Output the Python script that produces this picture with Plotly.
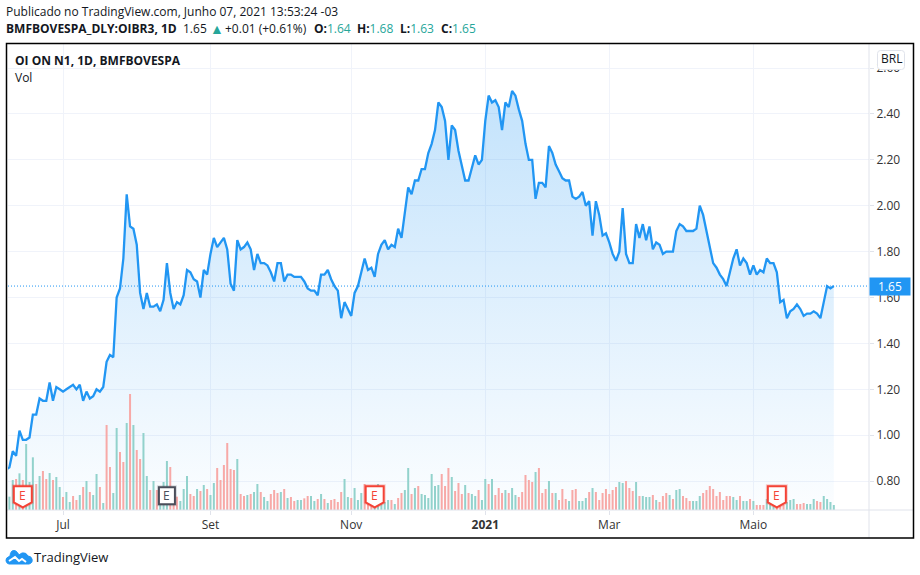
import plotly.graph_objects as go

W, H = 920, 575
LEFT, RIGHT, TOP, BOTTOM = 8, 869, 44, 510

# fechamento diario (BRL)
closes = [
    0.85, 0.86, 0.93, 0.91, 1.02, 0.98, 0.98, 0.99, 1.09, 1.09,
    1.16, 1.15, 1.15, 1.23, 1.15, 1.21, 1.20, 1.19, 1.20, 1.21,
    1.22, 1.20, 1.22, 1.15, 1.19, 1.16, 1.17, 1.20, 1.19, 1.21,
    1.32, 1.35, 1.34, 1.60, 1.64, 1.77, 2.05, 1.91, 1.90, 1.83,
    1.62, 1.55, 1.62, 1.56, 1.56, 1.57, 1.54, 1.59, 1.75, 1.62,
    1.55, 1.58, 1.57, 1.61, 1.72, 1.71, 1.68, 1.67, 1.60, 1.72,
    1.70, 1.79, 1.86, 1.82, 1.84, 1.86, 1.81, 1.66, 1.63, 1.85,
    1.81, 1.82, 1.84, 1.81, 1.72, 1.79, 1.75, 1.75, 1.74, 1.71,
    1.67, 1.75, 1.75, 1.67, 1.70, 1.70, 1.69, 1.69, 1.69, 1.67,
    1.64, 1.63, 1.63, 1.61, 1.70, 1.70, 1.72, 1.68, 1.65, 1.63,
    1.51, 1.58, 1.55, 1.52, 1.62, 1.65, 1.71, 1.77, 1.72, 1.73,
    1.69, 1.79, 1.83, 1.85, 1.81, 1.83, 1.82, 1.90, 1.86, 1.97,
    2.08, 2.05, 2.11, 2.11, 2.16, 2.16, 2.23, 2.27, 2.33, 2.45,
    2.43, 2.37, 2.20, 2.35, 2.33, 2.24, 2.18, 2.11, 2.11, 2.16,
    2.22, 2.18, 2.20, 2.37, 2.48, 2.45, 2.46, 2.43, 2.33, 2.45,
    2.43, 2.50, 2.48, 2.42, 2.37, 2.27, 2.20, 2.20, 2.03, 2.10,
    2.10, 2.08, 2.26, 2.23, 2.18, 2.15, 2.12, 2.11, 2.11, 2.04,
    2.03, 2.04, 2.06, 2.00, 2.02, 1.87, 2.02, 1.96, 1.87, 1.88,
    1.84, 1.79, 1.76, 1.80, 1.99, 1.79, 1.75, 1.75, 1.92, 1.86,
    1.92, 1.85, 1.91, 1.81, 1.84, 1.83, 1.79, 1.80, 1.80, 1.80,
    1.89, 1.92, 1.91, 1.89, 1.89, 1.89, 1.90, 2.00, 1.96, 1.89,
    1.82, 1.75, 1.73, 1.70, 1.68, 1.65, 1.71, 1.77, 1.81, 1.74,
    1.77, 1.75, 1.70, 1.74, 1.70, 1.72, 1.71, 1.77, 1.75, 1.75,
    1.71, 1.58, 1.59, 1.51, 1.54, 1.55, 1.57, 1.55, 1.52, 1.53,
    1.53, 1.54, 1.53, 1.51, 1.58, 1.65, 1.64, 1.65,
]

# volume (escala relativa)
volumes = [
    30, 40, 90, 93, 110, 90, 198, 84, 158, 78,
    102, 117, 93, 111, 90, 99, 69, 39, 54, 24,
    42, 30, 45, 69, 87, 54, 45, 108, 69, 21,
    255, 129, 51, 246, 174, 144, 261, 348, 255, 180,
    153, 231, 102, 60, 87, 60, 45, 84, 147, 129,
    60, 40, 27, 63, 102, 48, 42, 63, 57, 75,
    63, 45, 81, 126, 90, 135, 201, 123, 120, 153,
    48, 42, 45, 48, 54, 78, 54, 39, 27, 48,
    60, 51, 54, 63, 36, 39, 27, 30, 30, 35,
    42, 42, 27, 33, 48, 33, 21, 30, 33, 24,
    54, 93, 39, 36, 66, 30, 51, 78, 18, 18,
    24, 78, 20, 24, 30, 30, 18, 36, 51, 60,
    126, 48, 66, 72, 48, 45, 36, 108, 72, 75,
    108, 72, 126, 99, 57, 81, 48, 75, 51, 48,
    42, 60, 30, 93, 78, 93, 45, 66, 51, 60,
    51, 66, 45, 39, 54, 105, 90, 84, 114, 126,
    51, 63, 87, 51, 51, 30, 63, 33, 27, 60,
    63, 27, 27, 36, 54, 66, 54, 30, 51, 63,
    48, 60, 69, 84, 81, 87, 66, 57, 84, 42,
    42, 39, 39, 45, 30, 24, 42, 51, 45, 33,
    60, 63, 42, 36, 27, 27, 27, 42, 51, 60,
    72, 63, 42, 54, 30, 42, 42, 39, 30, 42,
    27, 27, 33, 27, 15, 15, 15, 33, 18, 12,
    6, 12, 15, 24, 30, 33, 18, 18, 21, 18,
    18, 33, 27, 24, 42, 33, 24, 15,
]

# g = pregao de alta, r = pregao de baixa
directions = (
    "gggrgrgggr" "grrgrggrgg" "rrgrgrggrg" "rrggrrgrgr" "rggrgrgggr"
    "rrgggrrgrg" "rggrrrrrrg" "rrgrggrggr" "rrgrgrrggr" "rggrgrgrrr"
    "rggrgggrrr" "gggggrgrrg" "grgrgggggg" "rrrgrrrgrg" "grggrgrrrg"
    "rggrrrrrgr" "rrgrgrrrgr" "rgggrgrrrr" "rrrggrrrgr" "gggrgrrrgr"
    "ggrrrgggrr" "rrrrrrrggr" "ggrgrrrggg" "rrrgggrrrg" "ggrrgggg"
)

tick_pos = [17, 61, 103, 143, 180, 223]
tick_text = ["Jul", "Set", "Nov", "<b>2021</b>", "Mar", "Maio"]
price_ticks = [0.8, 1.0, 1.2, 1.4, 1.6, 1.8, 2.0, 2.2, 2.4, 2.6]
earnings_pos = [5, 48, 110, 230]
earnings_past = [True, False, True, True]

BLUE = "#2196f3"
TEAL = "#26a69a"
GRID = "#f0f3fa"
AXIS = "#e0e3eb"
TXT = "#131722"
FONT = "Open Sans"


def fx(px):
    return (px - LEFT) / (RIGHT - LEFT)


def fy(py):
    return (BOTTOM - py) / (BOTTOM - TOP)


days = list(range(len(closes)))
bar_colors = ["#92d2cc" if d == "g" else "#f7a9a7" for d in directions]

fig = go.Figure()

fig.add_trace(go.Scatter(
    x=days, y=closes, mode="lines",
    line=dict(color=BLUE, width=2.3),
    fill="tozeroy",
    fillgradient=dict(
        type="vertical", start=2.5, stop=0.7,
        colorscale=[[0, "rgba(33,150,243,0.27)"], [1, "rgba(33,150,243,0.02)"]],
    ),
    showlegend=False, hoverinfo="skip",
))

fig.add_trace(go.Bar(
    x=days, y=volumes, width=0.6, yaxis="y2",
    marker=dict(color=bar_colors, line_width=0),
    showlegend=False, hoverinfo="skip",
))

fig.update_layout(
    width=W, height=H, autosize=False,
    margin=dict(l=LEFT, r=W - RIGHT, t=TOP, b=H - BOTTOM, pad=0),
    paper_bgcolor="white", plot_bgcolor="white",
    font=dict(family=FONT, size=12, color=TXT),
    xaxis=dict(
        range=[0.58, 257.5], tickmode="array", tickvals=tick_pos, ticktext=tick_text,
        showgrid=True, gridcolor=GRID, gridwidth=1, zeroline=False,
        ticks="outside", ticklen=4, tickcolor=AXIS, tickfont=dict(size=12, color="#333"),
        showline=False,
    ),
    yaxis=dict(
        range=[0.674, 2.705], side="right", tickmode="array", tickvals=price_ticks,
        tickformat=".2f", showgrid=True, gridcolor=GRID, gridwidth=1, zeroline=False,
        ticks="outside", ticklen=4, tickcolor=AXIS, tickfont=dict(size=12, color="#333"),
        showline=False,
    ),
    yaxis2=dict(range=[0, 1398], overlaying="y", visible=False),
)

shapes = []
# linhas dos eixos e moldura
shapes.append(dict(type="line", xref="paper", yref="paper", x0=fx(7), x1=fx(913), y0=fy(510), y1=fy(510),
                   line=dict(color=AXIS, width=1)))
shapes.append(dict(type="line", xref="paper", yref="paper", x0=fx(869), x1=fx(869), y0=fy(44), y1=fy(538),
                   line=dict(color=AXIS, width=1)))
shapes.append(dict(type="rect", xref="paper", yref="paper", x0=fx(6.5), x1=fx(913.5), y0=fy(538), y1=fy(43.5),
                   line=dict(color="black", width=1.5)))
# ultimo preco
shapes.append(dict(type="line", xref="paper", yref="y", x0=0, x1=1, y0=closes[-1], y1=closes[-1],
                   line=dict(color=BLUE, width=1, dash="1px,2px")))

# marcadores de resultado
SHIELD = "M-9,21 L9,21 L9,5 L0,0 L-9,5 Z"
SQUARE = "M-8,20 L8,20 L8,3 L-8,3 Z"
for pos, past in zip(earnings_pos, earnings_past):
    path = SHIELD if past else SQUARE
    col = "#f44336" if past else "#4a4e5a"
    halo = "rgba(244,67,54,0.25)" if past else "rgba(74,78,90,0.2)"
    for c, w in ((halo, 4), (col, 2)):
        shapes.append(dict(type="path", xref="x", yref="y2", xsizemode="pixel", ysizemode="pixel",
                           xanchor=pos, yanchor=8, path=path,
                           fillcolor="white", line=dict(color=c, width=w)))
# caixa BRL
shapes.append(dict(type="path", xref="paper", yref="paper", xsizemode="pixel", ysizemode="pixel",
                   xanchor=fx(877.5), yanchor=fy(69.5),
                   path="M3,0 L24,0 Q27,0 27,3 L27,16 Q27,19 24,19 L3,19 Q0,19 0,16 L0,3 Q0,0 3,0 Z",
                   fillcolor="white", line=dict(color=AXIS, width=1)))
# icone TradingView
shapes.append(dict(type="path", xref="paper", yref="paper", xsizemode="pixel", ysizemode="pixel",
                   xanchor=fx(6), yanchor=fy(565),
                   path="M3,1 L23,1 Q27,2 26,6 Q25,9 22,9 Q20,13 16,12 Q14,11 13,10 Q10,16 6,14 Q4,12 4,9 Q-1,7 0,4 Q1,1 3,1 Z",
                   fillcolor=BLUE, line=dict(color=BLUE, width=1)))
shapes.append(dict(type="path", xref="paper", yref="paper", xsizemode="pixel", ysizemode="pixel",
                   xanchor=fx(6), yanchor=fy(565),
                   path="M3,4 L9,8 L13,4 L16,6 L20,3",
                   line=dict(color="white", width=2)))
fig.update_layout(shapes=shapes)


def label(px, py, text, size=12, color=TXT, xanchor="left"):
    # anotacao tem 2px de folga na esquerda
    x = px - 2 if xanchor == "left" else px
    fig.add_annotation(xref="paper", yref="paper", x=fx(x), y=fy(py), text=text, showarrow=False,
                       xanchor=xanchor, yanchor="middle", align="left",
                       font=dict(family=FONT, size=size, color=color))


def val(s):
    return f'<span style="color:{TEAL}">{s}</span>'


label(6, 11, "Publicado no TradingView.com, Junho 07, 2021 13:53:24 -03")
label(6, 29, "<b>BMFBOVESPA_DLY:OIBR3, 1D</b>")
label(183, 29, "1.65")
label(210, 29, val("▲"), size=14)
label(225, 29, "+0.01 (+0.61%)")
label(314, 29, "<b>O:</b>" + val("1.64"))
label(357, 29, "<b>H:</b>" + val("1.68"))
label(400, 29, "<b>L:</b>" + val("1.63"))
label(441, 29, "<b>C:</b>" + val("1.65"))
label(15, 60, "<b>OI ON N1, 1D, BMFBOVESPA</b>")
label(15, 77, "Vol")
label(891, 59, "BRL", xanchor="center", size=12)
label(34, 557, "TradingView", size=13)
# etiqueta do ultimo preco
fig.add_annotation(xref="paper", yref="y", x=fx(869), y=closes[-1], text=f"{closes[-1]:.2f}", showarrow=False,
                   xanchor="left", yanchor="middle", bgcolor=BLUE, borderpad=1, width=38, height=15,
                   font=dict(family=FONT, size=12, color="white"))

for pos, past in zip(earnings_pos, earnings_past):
    fig.add_annotation(xref="x", yref="y2", x=pos, y=8, yshift=12, text="E", showarrow=False,
                       font=dict(family=FONT, size=12, color="#f44336" if past else "#4a4e5a"))

fig.write_html("out.html", config=dict(displayModeBar=False),
               post_script="document.body.style.margin='0';document.body.style.overflow='hidden';")
